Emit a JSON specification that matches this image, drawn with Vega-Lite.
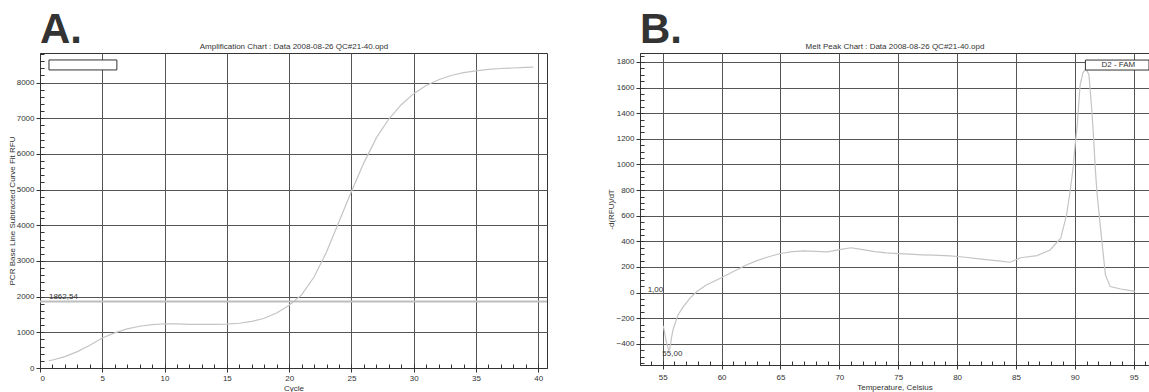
{
  "$schema": "https://vega.github.io/schema/vega-lite/v6.json",
  "padding": {"left": 7, "top": 8, "right": 0, "bottom": 0},
  "autosize": {"type": "pad"},
  "spacing": 58,
  "config": {
    "font": "Liberation Sans",
    "view": {"stroke": "#333", "strokeWidth": 1},
    "axis": {
      "labelFont": "Liberation Sans", "titleFont": "Liberation Sans",
      "labelFontSize": 8, "titleFontSize": 8, "titleFontWeight": "normal",
      "labelColor": "#333", "titleColor": "#333",
      "gridColor": "#555", "gridOpacity": 1, "gridWidth": 1,
      "domainColor": "#333", "tickColor": "#333", "tickSize": 4, "labelPadding": 2
    }
  },
  "datasets": {
    "amp": [
      {"cycle": 0.7, "rfu": 205}, {"cycle": 1, "rfu": 225}, {"cycle": 2, "rfu": 320}, {"cycle": 3, "rfu": 460},
      {"cycle": 4, "rfu": 640}, {"cycle": 5, "rfu": 840}, {"cycle": 6, "rfu": 985}, {"cycle": 7, "rfu": 1095},
      {"cycle": 8, "rfu": 1170}, {"cycle": 9, "rfu": 1215}, {"cycle": 10, "rfu": 1240}, {"cycle": 11, "rfu": 1235},
      {"cycle": 12, "rfu": 1225}, {"cycle": 13, "rfu": 1222}, {"cycle": 14, "rfu": 1222}, {"cycle": 15, "rfu": 1228},
      {"cycle": 16, "rfu": 1255}, {"cycle": 17, "rfu": 1305}, {"cycle": 18, "rfu": 1395}, {"cycle": 19, "rfu": 1540},
      {"cycle": 20, "rfu": 1760}, {"cycle": 21, "rfu": 2050}, {"cycle": 22, "rfu": 2550}, {"cycle": 23, "rfu": 3250},
      {"cycle": 24, "rfu": 4100}, {"cycle": 25, "rfu": 4950}, {"cycle": 26, "rfu": 5750}, {"cycle": 27, "rfu": 6450},
      {"cycle": 28, "rfu": 6980}, {"cycle": 29, "rfu": 7380}, {"cycle": 30, "rfu": 7690}, {"cycle": 31, "rfu": 7920},
      {"cycle": 32, "rfu": 8080}, {"cycle": 33, "rfu": 8200}, {"cycle": 34, "rfu": 8280}, {"cycle": 35, "rfu": 8330},
      {"cycle": 36, "rfu": 8370}, {"cycle": 37, "rfu": 8395}, {"cycle": 38, "rfu": 8410}, {"cycle": 39, "rfu": 8425},
      {"cycle": 39.6, "rfu": 8435}
    ],
    "melt": [
      {"temp": 55.05, "d": -260}, {"temp": 55.3, "d": -380}, {"temp": 55.5, "d": -450}, {"temp": 55.6, "d": -440},
      {"temp": 55.75, "d": -350}, {"temp": 55.9, "d": -280}, {"temp": 56.3, "d": -175}, {"temp": 56.75, "d": -110},
      {"temp": 57.3, "d": -45}, {"temp": 57.9, "d": 8}, {"temp": 58.7, "d": 60}, {"temp": 59.9, "d": 112},
      {"temp": 61, "d": 165}, {"temp": 62.1, "d": 215}, {"temp": 63, "d": 250}, {"temp": 64, "d": 280},
      {"temp": 65, "d": 305}, {"temp": 66, "d": 320}, {"temp": 67, "d": 325}, {"temp": 68, "d": 322},
      {"temp": 69, "d": 318}, {"temp": 70, "d": 335}, {"temp": 71, "d": 350}, {"temp": 72, "d": 335},
      {"temp": 73, "d": 320}, {"temp": 74, "d": 310}, {"temp": 75, "d": 305}, {"temp": 76, "d": 300},
      {"temp": 77, "d": 295}, {"temp": 78, "d": 292}, {"temp": 79.4, "d": 286}, {"temp": 80.5, "d": 278},
      {"temp": 82.25, "d": 260}, {"temp": 83.5, "d": 248}, {"temp": 84.5, "d": 237}, {"temp": 85.4, "d": 272},
      {"temp": 86.8, "d": 289}, {"temp": 87.9, "d": 333}, {"temp": 88.8, "d": 424}, {"temp": 89.3, "d": 606},
      {"temp": 89.6, "d": 789}, {"temp": 89.85, "d": 971}, {"temp": 90.0, "d": 1127}, {"temp": 90.2, "d": 1300},
      {"temp": 90.45, "d": 1620}, {"temp": 90.7, "d": 1720}, {"temp": 90.95, "d": 1745}, {"temp": 91.2, "d": 1700},
      {"temp": 91.45, "d": 1414}, {"temp": 91.6, "d": 1200}, {"temp": 91.75, "d": 950}, {"temp": 91.9, "d": 762},
      {"temp": 92.3, "d": 398}, {"temp": 92.6, "d": 138}, {"temp": 93.0, "d": 47}, {"temp": 93.9, "d": 28},
      {"temp": 94.9, "d": 13}, {"temp": 95.1, "d": 10}
    ]
  },
  "hconcat": [
    {
      "width": 507,
      "height": 315,
      "title": {"text": "A.", "anchor": "start", "frame": "group", "fontSize": 42, "font": "Liberation Sans", "fontWeight": "bold", "color": "#333", "offset": -10},
      "resolve": {"axis": {"x": "independent", "y": "independent"}},
      "layer": [
        {
          "data": {"name": "amp"},
          "mark": {"type": "line", "color": "#c4c4c4", "strokeWidth": 1.2},
          "encoding": {
            "x": {"field": "cycle", "type": "quantitative", "scale": {"domain": [0, 40.7], "nice": false, "zero": false},
                  "axis": {"orient": "bottom", "values": [0, 5, 10, 15, 20, 25, 30, 35, 40], "format": "d", "title": "Cycle", "titlePadding": 2}},
            "y": {"field": "rfu", "type": "quantitative", "scale": {"domain": [0, 8830], "nice": false},
                  "axis": {"orient": "left", "values": [0, 1000, 2000, 3000, 4000, 5000, 6000, 7000, 8000], "format": "d", "title": "PCR Base Line Subtracted Curve Fit RFU", "titlePadding": 0}}
          }
        },
        {
          "data": {"values": [{"thr": 1862.54}]},
          "mark": {"type": "rule", "color": "#bdbdbd", "strokeWidth": 2},
          "encoding": {
            "y": {"field": "thr", "type": "quantitative", "scale": {"domain": [0, 8830], "nice": false},
                  "axis": {"orient": "left", "values": [0,200,400,600,800,1000,1200,1400,1600,1800,2000,2200,2400,2600,2800,3000,3200,3400,3600,3800,4000,4200,4400,4600,4800,5000,5200,5400,5600,5800,6000,6200,6400,6600,6800,7000,7200,7400,7600,7800,8000,8200,8400,8600,8800],
                           "tickSize": -4, "labels": false, "grid": false, "domain": false, "title": null}}
          }
        },
        {
          "data": {"values": [{"lx": 0.72, "ly": 1930, "label": "1862,54"}]},
          "mark": {"type": "text", "align": "left", "baseline": "alphabetic", "fontSize": 8, "color": "#333", "font": "Liberation Sans"},
          "encoding": {
            "x": {"field": "lx", "type": "quantitative", "scale": {"domain": [0, 40.7], "nice": false, "zero": false},
                  "axis": {"orient": "bottom", "values": [1,2,3,4,5,6,7,8,9,10,11,12,13,14,15,16,17,18,19,20,21,22,23,24,25,26,27,28,29,30,31,32,33,34,35,36,37,38,39,40],
                           "tickSize": -4, "labels": false, "grid": false, "domain": false, "title": null}},
            "y": {"field": "ly", "type": "quantitative", "scale": {"domain": [0, 8830], "nice": false}, "axis": null},
            "text": {"field": "label"}
          }
        },
        {
          "data": {"values": [{"x1": 0.72, "x2": 6.17, "y1": 8635, "y2": 8355}]},
          "mark": {"type": "rect", "fill": "white", "stroke": "#333", "strokeWidth": 1},
          "encoding": {
            "x": {"field": "x1", "type": "quantitative", "scale": {"domain": [0, 40.7], "nice": false, "zero": false},
                  "axis": {"orient": "top", "title": "Amplification Chart : Data 2008-08-26 QC#21-40.opd", "labels": false, "ticks": false, "domain": false, "grid": false, "titlePadding": 3}},
            "x2": {"field": "x2"},
            "y": {"field": "y1", "type": "quantitative", "scale": {"domain": [0, 8830], "nice": false}, "axis": null},
            "y2": {"field": "y2"}
          }
        }
      ]
    },
    {
      "width": 509,
      "height": 312,
      "title": {"text": "B.", "anchor": "start", "frame": "group", "fontSize": 42, "font": "Liberation Sans", "fontWeight": "bold", "color": "#333", "offset": -10},
      "resolve": {"axis": {"x": "independent", "y": "independent"}},
      "layer": [
        {
          "data": {"name": "melt"},
          "mark": {"type": "line", "color": "#c4c4c4", "strokeWidth": 1.2},
          "encoding": {
            "x": {"field": "temp", "type": "quantitative", "scale": {"domain": [53.07, 96.3], "nice": false, "zero": false},
                  "axis": {"orient": "bottom", "values": [55, 60, 65, 70, 75, 80, 85, 90, 95], "format": "d", "title": "Temperature, Celsius", "titlePadding": 2, "labelPadding": 4}},
            "y": {"field": "d", "type": "quantitative", "scale": {"domain": [-565, 1870], "nice": false, "zero": false},
                  "axis": {"orient": "left", "values": [-400, -200, 0, 200, 400, 600, 800, 1000, 1200, 1400, 1600, 1800], "format": "d", "title": "-d(RFU)/dT", "titlePadding": 0}}
          }
        },
        {
          "data": {"values": [{"lx": 53.72, "ly": 8, "label": "1,00"}, {"lx": 54.97, "ly": -492, "label": "55,00"}]},
          "mark": {"type": "text", "align": "left", "baseline": "alphabetic", "fontSize": 8, "color": "#333", "font": "Liberation Sans"},
          "encoding": {
            "x": {"field": "lx", "type": "quantitative", "scale": {"domain": [53.07, 96.3], "nice": false, "zero": false},
                  "axis": {"orient": "bottom", "values": [54,55,56,57,58,59,60,61,62,63,64,65,66,67,68,69,70,71,72,73,74,75,76,77,78,79,80,81,82,83,84,85,86,87,88,89,90,91,92,93,94,95,96],
                           "tickSize": -4, "labels": false, "grid": false, "domain": false, "title": null}},
            "y": {"field": "ly", "type": "quantitative", "scale": {"domain": [-565, 1870], "nice": false, "zero": false},
                  "axis": {"orient": "left", "values": [-550,-500,-450,-400,-350,-300,-250,-200,-150,-100,-50,0,50,100,150,200,250,300,350,400,450,500,550,600,650,700,750,800,850,900,950,1000,1050,1100,1150,1200,1250,1300,1350,1400,1450,1500,1550,1600,1650,1700,1750,1800,1850],
                           "tickSize": -4, "labels": false, "grid": false, "domain": false, "title": null}},
            "text": {"field": "label"}
          }
        },
        {
          "data": {"values": [{"x1": 90.9, "x2": 96.3, "y1": 1815, "y2": 1737}]},
          "mark": {"type": "rect", "fill": "white", "stroke": "#333", "strokeWidth": 1},
          "encoding": {
            "x": {"field": "x1", "type": "quantitative", "scale": {"domain": [53.07, 96.3], "nice": false, "zero": false},
                  "axis": {"orient": "top", "title": "Melt Peak Chart : Data 2008-08-26 QC#21-40.opd", "labels": false, "ticks": false, "domain": false, "grid": false, "titlePadding": 3}},
            "x2": {"field": "x2"},
            "y": {"field": "y1", "type": "quantitative", "scale": {"domain": [-565, 1870], "nice": false, "zero": false}, "axis": null},
            "y2": {"field": "y2"}
          }
        },
        {
          "data": {"values": [{"tx": 93.7, "ty": 1776, "label": "D2 - FAM"}]},
          "mark": {"type": "text", "align": "center", "baseline": "middle", "fontSize": 8, "color": "#333", "font": "Liberation Sans"},
          "encoding": {
            "x": {"field": "tx", "type": "quantitative", "scale": {"domain": [53.07, 96.3], "nice": false, "zero": false}, "axis": null},
            "y": {"field": "ty", "type": "quantitative", "scale": {"domain": [-565, 1870], "nice": false, "zero": false}, "axis": null},
            "text": {"field": "label"}
          }
        }
      ]
    }
  ]
}
